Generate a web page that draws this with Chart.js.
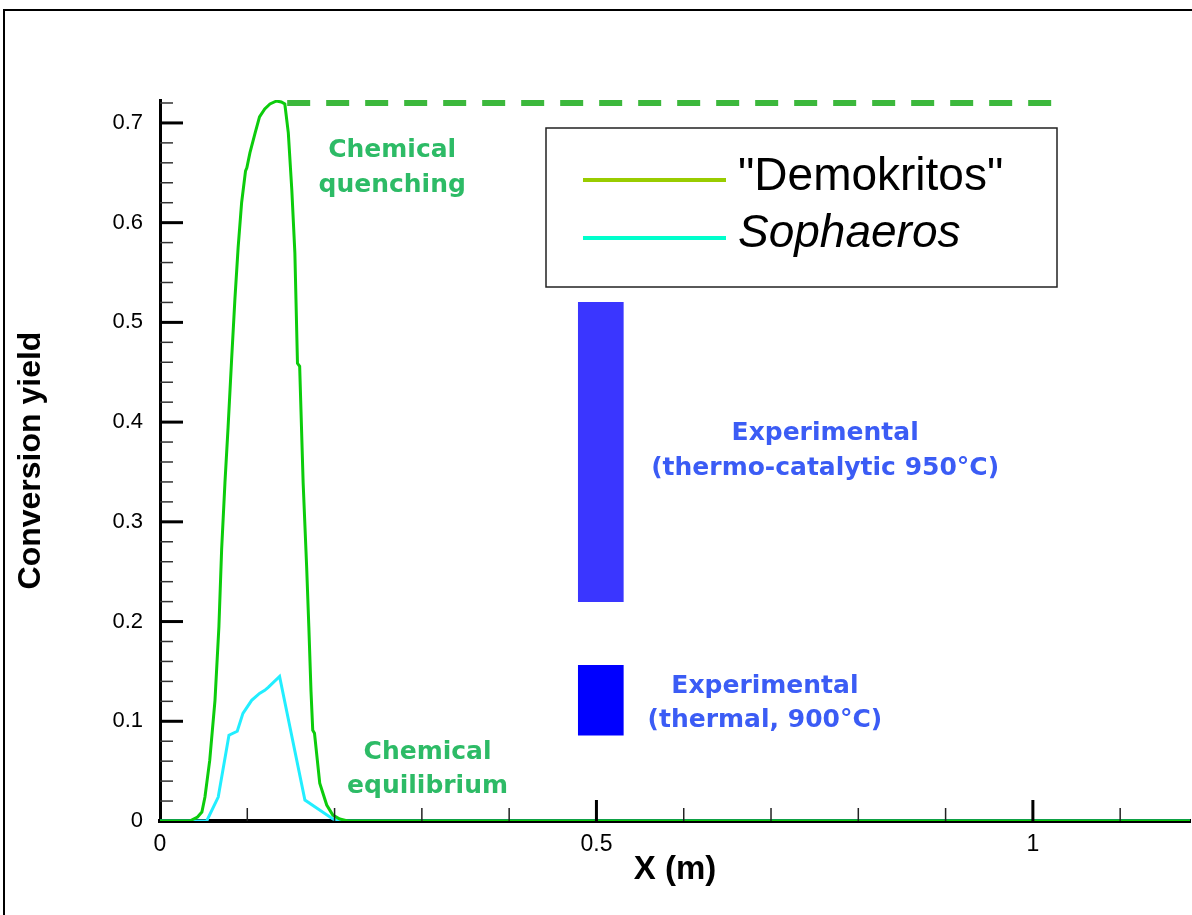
<!DOCTYPE html>
<html><head><meta charset="utf-8">
<script src="https://cdn.jsdelivr.net/npm/chart.js@4.4.1/dist/chart.umd.min.js"></script>
<style>html,body{margin:0;padding:0;background:#fff;}canvas{display:block}</style>
</head><body>
<canvas id="c" width="1192" height="915"></canvas>
<script>
// ---- data ----
const demokritosX = [0, 0.034, 0.043, 0.048, 0.0515, 0.057, 0.063, 0.0675, 0.0706, 0.0744, 0.078, 0.082, 0.0858, 0.0895, 0.0935, 0.098, 0.0995, 0.103, 0.109, 0.114, 0.120, 0.126, 0.1335, 0.139, 0.143, 0.147, 0.151, 0.1545, 0.1575, 0.160, 0.164, 0.168, 0.1705, 0.173, 0.175, 0.177, 0.183, 0.191, 0.198, 0.206, 0.215, 1.18];
const demokritosY = [0, 0, 0.004, 0.009, 0.024, 0.061, 0.121, 0.195, 0.272, 0.339, 0.395, 0.462, 0.523, 0.575, 0.620, 0.652, 0.655, 0.670, 0.690, 0.706, 0.714, 0.719, 0.722, 0.721, 0.719, 0.690, 0.633, 0.570, 0.459, 0.456, 0.339, 0.255, 0.195, 0.130, 0.091, 0.088, 0.038, 0.016, 0.006, 0.002, 0, 0];
const sophaerosX = [0, 0.0535, 0.0667, 0.079, 0.0885, 0.095, 0.105, 0.114, 0.120, 0.124, 0.137, 0.166, 0.198, 0.205, 1.18];
const sophaerosY = [0, 0, 0.024, 0.086, 0.090, 0.108, 0.121, 0.128, 0.131, 0.134, 0.145, 0.021, 0.002, 0, 0];
const quenchX = [0.1457, 1.0286];
const quenchY = [0.72, 0.72];
const expX = [0.505];
const expThermoCatalytic = [0.22, 0.52];
const expThermal = [0.086, 0.156];
const xTickValues = [0, 0.5, 1];
const xTickLabels = ['0', '0.5', '1'];
const yTickValues = [0, 0.1, 0.2, 0.3, 0.4, 0.5, 0.6, 0.7];
const yTickLabels = ['0', '0.1', '0.2', '0.3', '0.4', '0.5', '0.6', '0.7'];
const seriesLabels = ['"Demokritos"', 'Sophaeros'];
const xTitle = 'X (m)';
const yTitle = 'Conversion yield';

const toPts = (xs, ys) => xs.map((x, i) => ({x: x, y: ys[i]}));
const labelFor = (vals, labels, v) => {
  for (let i = 0; i < vals.length; i++) if (Math.abs(vals[i] - v) < 1e-6) return labels[i];
  return '';
};

const FONT = "'Liberation Sans', Arial, sans-serif";
const NOTE_FONT = "bold 25px 'DejaVu Sans', sans-serif";

const framePlugin = {
  id: 'frame',
  beforeDraw(chart) {
    const ctx = chart.ctx;
    ctx.save();
    ctx.fillStyle = '#fff';
    ctx.fillRect(0, 0, chart.width, chart.height);
    ctx.strokeStyle = '#000';
    ctx.lineWidth = 2;
    ctx.beginPath();
    ctx.moveTo(4, chart.height);
    ctx.lineTo(4, 10);
    ctx.lineTo(chart.width, 10);
    ctx.stroke();
    ctx.restore();
  }
};

const innerTicksPlugin = {
  id: 'innerTicks',
  afterDraw(chart) {
    const {ctx, chartArea: a} = chart;
    const xs = chart.scales.x, ys = chart.scales.y;
    ctx.save();
    for (let i = 1; i <= 40; i++) {
      const v = i * 0.02;
      if (v > ys.max + 1e-9) break;
      const p = ys.getPixelForValue(v);
      const major = i % 5 === 0;
      ctx.strokeStyle = major ? '#000' : '#333';
      ctx.lineWidth = major ? 3 : 1.5;
      ctx.beginPath();
      ctx.moveTo(a.left, p);
      ctx.lineTo(a.left + (major ? 23 : 13), p);
      ctx.stroke();
    }
    for (let i = 1; i <= 20; i++) {
      const v = i * 0.1;
      if (v > xs.max + 1e-9) break;
      const p = xs.getPixelForValue(v);
      const major = i % 5 === 0;
      ctx.strokeStyle = major ? '#000' : '#222';
      ctx.lineWidth = major ? 3 : 1.5;
      ctx.beginPath();
      ctx.moveTo(p, a.bottom);
      ctx.lineTo(p, a.bottom - (major ? 21 : 13));
      ctx.stroke();
    }
    ctx.restore();
  }
};

const annotationPlugin = {
  id: 'notes',
  afterDatasetsDraw(chart, args, opts) {
    const {ctx} = chart;
    const xs = chart.scales.x, ys = chart.scales.y;
    ctx.save();
    ctx.textAlign = 'center';
    ctx.textBaseline = 'middle';
    opts.items.forEach(it => {
      ctx.fillStyle = it.color;
      ctx.font = it.font;
      const px = xs.getPixelForValue(it.x);
      const py = ys.getPixelForValue(it.y);
      it.lines.forEach((t, k) => ctx.fillText(t, px, py + k * it.gap));
    });
    ctx.restore();
  }
};

const boxLegendPlugin = {
  id: 'boxLegend',
  afterDraw(chart, args, opts) {
    const ctx = chart.ctx;
    ctx.save();
    ctx.fillStyle = '#fff';
    ctx.fillRect(opts.left, opts.top, opts.width, opts.height);
    ctx.strokeStyle = '#222';
    ctx.lineWidth = 1.5;
    ctx.strokeRect(opts.left, opts.top, opts.width, opts.height);
    opts.entries.forEach(e => {
      ctx.strokeStyle = e.color;
      ctx.lineWidth = 4;
      ctx.beginPath();
      ctx.moveTo(opts.left + 37, opts.top + e.dy);
      ctx.lineTo(opts.left + 180, opts.top + e.dy);
      ctx.stroke();
      ctx.fillStyle = '#000';
      ctx.font = e.font;
      ctx.textAlign = 'left';
      ctx.textBaseline = 'alphabetic';
      ctx.fillText(e.text, opts.left + 192, opts.top + e.base);
    });
    ctx.restore();
  }
};

new Chart(document.getElementById('c'), {
  type: 'line',
  data: {
    datasets: [
      {
        type: 'bar', label: 'Experimental (thermo-catalytic 950°C)',
        data: [{x: expX[0], y: expThermoCatalytic}],
        backgroundColor: '#3a36ff', borderWidth: 0, barThickness: 45, grouped: false, order: 5
      },
      {
        type: 'bar', label: 'Experimental (thermal, 900°C)',
        data: [{x: expX[0], y: expThermal}],
        backgroundColor: '#0000ff', borderWidth: 0, barThickness: 45, grouped: false, order: 5
      },
      {
        label: 'Chemical quenching', data: toPts(quenchX, quenchY),
        borderColor: '#3cb83c', borderWidth: 6, borderDash: [23, 16],
        pointRadius: 0, tension: 0, order: 3
      },
      {
        label: seriesLabels[1], data: toPts(sophaerosX, sophaerosY),
        borderColor: '#22eeff', borderWidth: 3, pointRadius: 0, tension: 0, order: 2
      },
      {
        label: seriesLabels[0], data: toPts(demokritosX, demokritosY),
        borderColor: '#0ccc0c', borderWidth: 3, pointRadius: 0, tension: 0, order: 1
      }
    ]
  },
  options: {
    responsive: false,
    animation: false,
    devicePixelRatio: 1,
    layout: {padding: {top: 100, right: 2, left: 0, bottom: 0}},
    plugins: {
      legend: {display: false},
      tooltip: {enabled: false},
      boxLegend: {
        left: 546, top: 128, width: 511, height: 159,
        entries: [
          {text: seriesLabels[0], color: '#99cc00', dy: 52, base: 62, font: "46px " + FONT},
          {text: seriesLabels[1], color: '#00ffcc', dy: 110, base: 119, font: "italic 46px " + FONT}
        ]
      },
      notes: {
        items: [
          {x: 0.266, y: 0.672, lines: ['Chemical', 'quenching'], gap: 35, color: '#2dbb66', font: NOTE_FONT},
          {x: 0.3065, y: 0.069, lines: ['Chemical', 'equilibrium'], gap: 34, color: '#2dbb66', font: NOTE_FONT},
          {x: 0.762, y: 0.389, lines: ['Experimental', '(thermo-catalytic 950°C)'], gap: 35, color: '#3b5cf5', font: NOTE_FONT},
          {x: 0.693, y: 0.135, lines: ['Experimental', '(thermal, 900°C)'], gap: 34, color: '#3b5cf5', font: NOTE_FONT}
        ]
      }
    },
    scales: {
      x: {
        type: 'linear', min: 0, max: 1.18, offset: false, z: 1,
        afterBuildTicks(s) { s.ticks = xTickValues.map(v => ({value: v})); },
        afterFit(s) { s.height = 94; },
        grid: {display: false, drawTicks: false, offset: false},
        border: {display: true, color: '#000', width: 4},
        ticks: {
          autoSkip: false, padding: 10, color: '#000',
          font: {family: FONT, size: 23},
          callback: v => labelFor(xTickValues, xTickLabels, v)
        },
        title: {display: true, text: xTitle, color: '#000', font: {family: FONT, size: 33, weight: 'bold'}, padding: {top: 4, bottom: 25}}
      },
      y: {
        type: 'linear', min: 0, max: 0.723, z: 1,
        afterBuildTicks(s) { s.ticks = yTickValues.map(v => ({value: v})); },
        afterFit(s) { s.width = 160; },
        grid: {display: false, drawTicks: false},
        border: {display: true, color: '#000', width: 3},
        ticks: {
          autoSkip: false, padding: 17, color: '#000',
          font: {family: FONT, size: 22},
          callback: v => labelFor(yTickValues, yTickLabels, v)
        },
        title: {display: true, text: yTitle, color: '#000', font: {family: FONT, size: 32, weight: 'bold'}, padding: {top: 12, bottom: 12}}
      }
    }
  },
  plugins: [framePlugin, innerTicksPlugin, annotationPlugin, boxLegendPlugin]
});
</script>
</body></html>
